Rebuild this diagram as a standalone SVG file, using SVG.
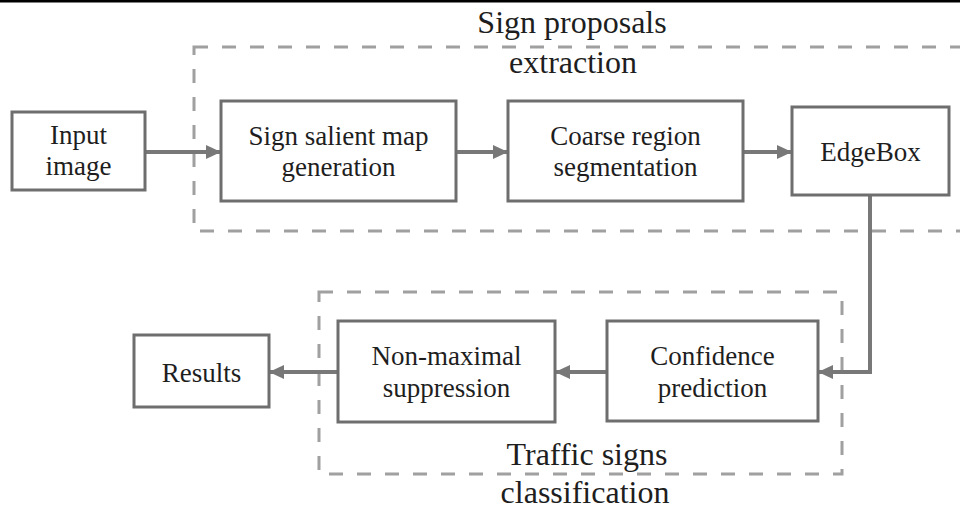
<svg xmlns="http://www.w3.org/2000/svg" width="960" height="509" viewBox="0 0 960 509">
<style>
.box{fill:#fff;stroke:#6e6e6e;stroke-width:3}
.dash{fill:none;stroke:#a0a0a0;stroke-width:3;stroke-dasharray:14 14}
.conn{fill:none;stroke:#787878;stroke-width:4}
text{font-family:"Liberation Serif","Times New Roman",serif;fill:#1e1e1e;text-anchor:middle}
.n{font-size:27px}
.t{font-size:32px}
</style>
<defs>
<marker id="ah" markerUnits="userSpaceOnUse" markerWidth="16" markerHeight="14" refX="15" refY="7" orient="auto">
<path d="M0,0 L15,7 L0,14 Z" fill="#787878"/>
</marker>
</defs>
<rect x="0" y="0" width="960" height="509" fill="#fff"/>
<rect x="0" y="0" width="960" height="2.5" fill="#000"/>
<g id="group-proposals">
<rect class="dash" x="194" y="47" width="800" height="184"/>
<text class="t" x="572" y="33">Sign proposals</text>
<text class="t" x="573" y="73">extraction</text>
</g>
<g id="group-classification">
<rect class="dash" x="319" y="292" width="523" height="182"/>
<text class="t" x="587" y="465">Traffic signs</text>
<text class="t" x="585" y="503">classification</text>
</g>
<g id="connectors">
<line class="conn" x1="145" y1="152" x2="221" y2="152" marker-end="url(#ah)"/>
<line class="conn" x1="456" y1="152" x2="508" y2="152" marker-end="url(#ah)"/>
<line class="conn" x1="743" y1="152" x2="792" y2="152" marker-end="url(#ah)"/>
<polyline class="conn" points="870,195 870,372 818,372" marker-end="url(#ah)"/>
<line class="conn" x1="607" y1="372" x2="555" y2="372" marker-end="url(#ah)"/>
<line class="conn" x1="338" y1="372" x2="269" y2="372" marker-end="url(#ah)"/>
</g>
<g id="input">
<rect class="box" x="12" y="112" width="133" height="78"/>
<text class="n" x="78.5" y="144">Input</text>
<text class="n" x="78.5" y="175">image</text>
</g>
<g id="salient">
<rect class="box" x="221" y="101" width="235" height="100"/>
<text class="n" x="338.5" y="145">Sign salient map</text>
<text class="n" x="338.5" y="176">generation</text>
</g>
<g id="coarse">
<rect class="box" x="508" y="101" width="235" height="100"/>
<text class="n" x="625.5" y="145">Coarse region</text>
<text class="n" x="625.5" y="176">segmentation</text>
</g>
<g id="edgebox">
<rect class="box" x="792" y="107" width="157" height="88"/>
<text class="n" x="870.5" y="161">EdgeBox</text>
</g>
<g id="confidence">
<rect class="box" x="607" y="321" width="211" height="100"/>
<text class="n" x="712.5" y="365">Confidence</text>
<text class="n" x="712.5" y="397">prediction</text>
</g>
<g id="nms">
<rect class="box" x="338" y="321" width="217" height="101"/>
<text class="n" x="446.5" y="365">Non-maximal</text>
<text class="n" x="446.5" y="397">suppression</text>
</g>
<g id="results">
<rect class="box" x="134" y="335" width="135" height="72"/>
<text class="n" x="201.5" y="382">Results</text>
</g>
</svg>
